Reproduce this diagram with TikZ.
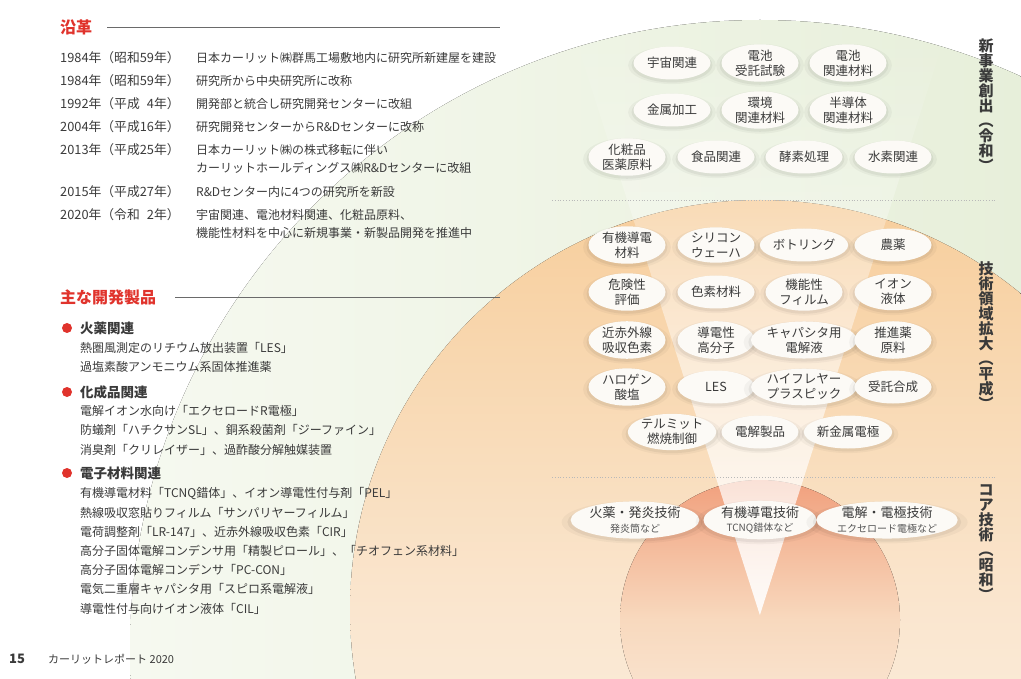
\documentclass[tikz,border=0pt]{standalone}
\usepackage{fontspec}
\setmainfont{Noto Sans CJK JP}
\usetikzlibrary{shapes.geometric,shadows,fadings}
\definecolor{txt}{HTML}{3A3A3A}
\definecolor{subtxt}{HTML}{555555}
\definecolor{hred}{HTML}{E0332C}
\definecolor{rulegray}{HTML}{6A6A6A}
\definecolor{grL}{HTML}{F6F9F0}
\definecolor{grR}{HTML}{E1EBD1}
\definecolor{orT}{HTML}{F7CE9C}
\definecolor{orM}{HTML}{FAE6CF}
\definecolor{orB}{HTML}{FDF6EE}
\definecolor{rdT}{HTML}{F1A07D}
\definecolor{rdM}{HTML}{F8D9BE}
\definecolor{rdB}{HTML}{FBECDD}
\definecolor{pillfill}{HTML}{FCFAF6}
\definecolor{dotc}{HTML}{B9B9B9}
\newcommand\fsz[2]{\fontsize{#1}{#2}\selectfont}
\begin{document}
\begin{tikzpicture}[x=1pt,y=-1pt,
  pill/.style={ellipse, fill=pillfill, minimum width=77pt, minimum height=33pt,
    inner sep=0pt, align=center, text=txt, font=\fsz{12.5}{15},
    general shadow={fill=black, opacity=0.035, shadow scale=1.14, shadow yshift=-2pt},
    general shadow={fill=black, opacity=0.05, shadow scale=1.05, shadow yshift=-2pt}},
  corepill/.style={pill, minimum width=113pt, minimum height=32pt, font=\fsz{13}{14.5}},
  heading/.style={anchor=west, text=hred, font=\bfseries\fsz{16}{18}, inner sep=0pt},
  hrule/.style={draw=rulegray, line width=0.9pt},
  body/.style={anchor=west, text=txt, font=\fsz{12}{14}, inner sep=0pt},
  yearcol/.style={body, font=\fsz{12.8}{14}},
  cat/.style={anchor=west, text=txt, font=\bfseries\fsz{13.5}{15}, inner sep=0pt},
  vlabel/.style={align=center, text=txt, font=\bfseries\fsz{15}{15}, inner sep=0pt},
  dotline/.style={draw=dotc, line width=0.8pt, dotted},
  bullet/.style={circle, fill=hred, minimum size=10pt, inner sep=0pt}]
\useasboundingbox (0,0) rectangle (1021,679);
% ---------- background ----------
\begin{scope}
  \clip (0,0) rectangle (1021,679);
  \fill[left color=grL, right color=grR] (760,650) circle[radius=630pt];
  \fill[top color=orT, bottom color=orB, middle color=orM] (760,610) circle[radius=410pt];
  \fill[top color=rdT, bottom color=rdB, middle color=rdM] (760,620) circle[radius=140pt];
  \begin{scope}
    \clip (760,650) circle[radius=630pt];
    \fill[white, path fading=north, fill opacity=0.9] (573,30) -- (947,30) -- (760,615) -- cycle;
  \end{scope}
\end{scope}
% ---------- dotted separators ----------
\coordinate (d1a) at (552,200); \coordinate (d1b) at (995,200);
\coordinate (d2a) at (552,477); \coordinate (d2b) at (995,477);
\draw[dotline] (d1a) -- (d1b);
\draw[dotline] (d2a) -- (d2b);
% ---------- left: history ----------
\node[heading] (hist) at (60,27) {沿革};
\coordinate (r1a) at (107,27); \coordinate (r1b) at (500,27);
\draw[hrule] (r1a) -- (r1b);
\node[yearcol] (y1) at (60,58)  {1984年（昭和59年）};
\node[body] (t1) at (196,58) {日本カーリット㈱群馬工場敷地内に研究所新建屋を建設};
\node[yearcol] (y2) at (60,81)  {1984年（昭和59年）};
\node[body] (t2) at (196,81) {研究所から中央研究所に改称};
\node[yearcol] (y3) at (60,104) {1992年（平成\phantom{1}4年）};
\node[body] (t3) at (196,104) {開発部と統合し研究開発センターに改組};
\node[yearcol] (y4) at (60,127) {2004年（平成16年）};
\node[body] (t4) at (196,127) {研究開発センターからR\&Dセンターに改称};
\node[yearcol] (y5) at (60,150) {2013年（平成25年）};
\node[body] (t5) at (196,150) {日本カーリット㈱の株式移転に伴い};
\node[body] (t5b) at (196,168) {カーリットホールディングス㈱R\&Dセンターに改組};
\node[yearcol] (y6) at (60,192) {2015年（平成27年）};
\node[body] (t6) at (196,192) {R\&Dセンター内に4つの研究所を新設};
\node[yearcol] (y7) at (60,215) {2020年（令和\phantom{1}2年）};
\node[body] (t7) at (196,215) {宇宙関連、電池材料関連、化粧品原料、};
\node[body] (t7b) at (196,233) {機能性材料を中心に新規事業・新製品開発を推進中};
% ---------- left: products ----------
\node[heading] (prod) at (60,297) {主な開発製品};
\coordinate (r2a) at (175,297); \coordinate (r2b) at (500,297);
\draw[hrule] (r2a) -- (r2b);
\node[bullet] (b1) at (67,328) {};
\node[cat] (c1) at (80,328) {火薬関連};
\node[body] (p11) at (80,348) {熱圏風測定のリチウム放出装置「LES」};
\node[body] (p12) at (80,367) {過塩素酸アンモニウム系固体推進薬};
\node[bullet] (b2) at (67,392) {};
\node[cat] (c2) at (80,392) {化成品関連};
\node[body] (p21) at (80,411) {電解イオン水向け「エクセロードR電極」};
\node[body] (p22) at (80,430) {防蟻剤「ハチクサンSL」、銅系殺菌剤「ジーファイン」};
\node[body] (p23) at (80,450) {消臭剤「クリレイザー」、過酢酸分解触媒装置};
\node[bullet] (b3) at (67,473) {};
\node[cat] (c3) at (80,473) {電子材料関連};
\node[body] (p31) at (80,494) {有機導電材料「TCNQ錯体」、イオン導電性付与剤「PEL」};
\node[body] (p32) at (80,513) {熱線吸収窓貼りフィルム「サンパリヤーフィルム」};
\node[body] (p33) at (80,532) {電荷調整剤「LR-147」、近赤外線吸収色素「CIR」};
\node[body] (p34) at (80,551) {高分子固体電解コンデンサ用「精製ピロール」、「チオフェン系材料」};
\node[body] (p35) at (80,570) {高分子固体電解コンデンサ「PC-CON」};
\node[body] (p36) at (80,589) {電気二重層キャパシタ用「スピロ系電解液」};
\node[body] (p37) at (80,609) {導電性付与向けイオン液体「CIL」};
% ---------- footer ----------
\node[anchor=west, text=txt, font=\bfseries\fsz{13}{14}, inner sep=0pt] (pg) at (9,659) {15};
\node[anchor=west, text=txt, font=\fsz{11}{12}, inner sep=0pt] (rep) at (48,659) {カーリットレポート 2020};
% ---------- new business (Reiwa) ----------
\node[pill] (n11) at (672,63) {宇宙関連};
\node[pill] (n12) at (760,63) {電池\\受託試験};
\node[pill] (n13) at (848,63) {電池\\関連材料};
\node[pill] (n21) at (672,110) {金属加工};
\node[pill] (n22) at (760,110) {環境\\関連材料};
\node[pill] (n23) at (848,110) {半導体\\関連材料};
\node[pill] (n31) at (627,157) {化粧品\\医薬原料};
\node[pill] (n32) at (716,157) {食品関連};
\node[pill] (n33) at (804,157) {酵素処理};
\node[pill] (n34) at (893,157) {水素関連};
% ---------- expansion (Heisei) ----------
\node[pill] (m11) at (627,245) {有機導電\\材料};
\node[pill] (m12) at (716,245) {シリコン\\ウェーハ};
\node[pill] (m13) at (804,245) {ボトリング};
\node[pill] (m14) at (893,245) {農薬};
\node[pill] (m21) at (627,292) {危険性\\評価};
\node[pill] (m22) at (716,292) {色素材料};
\node[pill] (m23) at (804,292) {機能性\\フィルム};
\node[pill] (m24) at (893,292) {イオン\\液体};
\node[pill] (m31) at (627,340) {近赤外線\\吸収色素};
\node[pill] (m32) at (716,340) {導電性\\高分子};
\node[pill] (m33) at (804,340) {キャパシタ用\\電解液};
\node[pill] (m34) at (893,340) {推進薬\\原料};
\node[pill] (m41) at (627,387) {ハロゲン\\酸塩};
\node[pill] (m42) at (716,387) {LES};
\node[pill] (m43) at (804,387) {ハイフレヤー\\プラスピック};
\node[pill] (m44) at (893,387) {受託合成};
\node[pill] (m51) at (672,432) {テルミット\\燃焼制御};
\node[pill] (m52) at (760,432) {電解製品};
\node[pill] (m53) at (848,432) {新金属電極};
% ---------- core (Showa) ----------
\node[corepill] (k1) at (635,520) {火薬・発炎技術\\{\fsz{10}{11}\color{subtxt}発炎筒など}};
\node[corepill] (k2) at (760,520) {有機導電技術\\{\fsz{10}{11}\color{subtxt}TCNQ錯体など}};
\node[corepill] (k3) at (887,520) {電解・電極技術\\{\fsz{10}{11}\color{subtxt}エクセロード電極など}};
% ---------- vertical labels ----------
\node[vlabel] (v1) at (986,105) {新\\事\\業\\創\\出\\︵\\令\\和\\︶};
\node[vlabel] (v2) at (986,336) {技\\術\\領\\域\\拡\\大\\︵\\平\\成\\︶};
\node[vlabel] (v3) at (986,543) {コ\\ア\\技\\術\\︵\\昭\\和\\︶};
\end{tikzpicture}
\end{document}
